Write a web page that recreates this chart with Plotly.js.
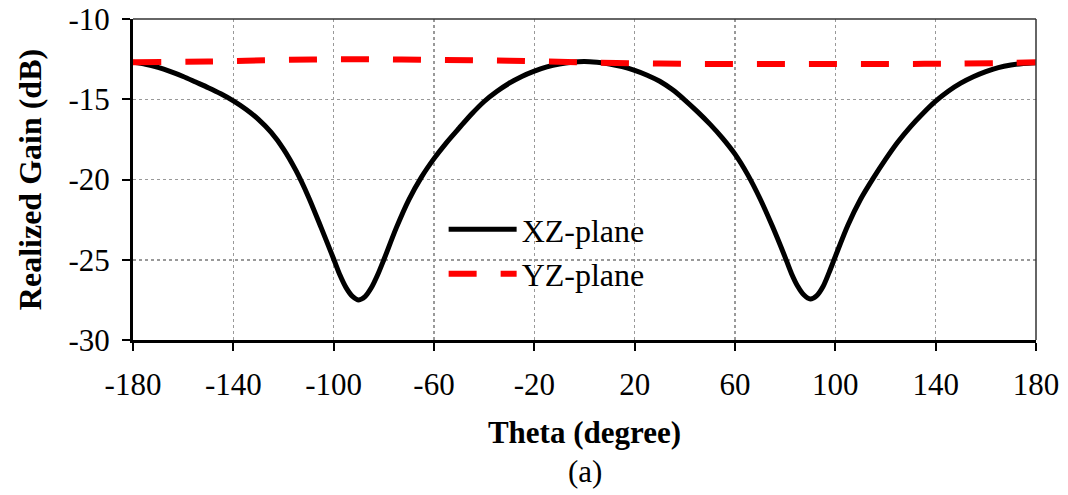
<!DOCTYPE html>
<html>
<head>
<meta charset="utf-8">
<script src="https://cdn.plot.ly/plotly-3.0.1.min.js"></script>
<style>html,body{margin:0;padding:0;background:#fff;}#chart{width:1068px;height:495px;}</style>
</head>
<body>
<div id="chart"></div>
<script>
const thetaXZ = [-180,-175,-170,-165,-160,-155,-150,-145,-140,-135,-130,-125,-120,-115,-110,-105,-100,-97.5,-95,-92.5,-90,-87.5,-85,-82.5,-80,-75,-70,-65,-60,-55,-50,-45,-40,-35,-30,-25,-20,-15,-10,-5,0,
                 5,10,15,20,25,30,35,40,45,50,55,60,65,70,75,80,82.5,85,87.5,90,92.5,95,97.5,100,105,110,115,120,125,130,135,140,145,150,155,160,165,170,175,180];
const gainXZ = [-12.70,-12.82,-13.02,-13.28,-13.58,-13.93,-14.28,-14.66,-15.10,-15.62,-16.25,-17.05,-18.10,-19.45,-21.10,-23.00,-24.95,-25.95,-26.75,-27.28,-27.50,-27.30,-26.75,-25.95,-25.00,-23.00,-21.25,-19.85,-18.70,-17.70,-16.80,-15.92,-15.14,-14.52,-14.00,-13.58,-13.25,-12.98,-12.80,-12.69,-12.65,
                -12.70,-12.80,-12.97,-13.20,-13.50,-13.88,-14.40,-15.05,-15.77,-16.55,-17.42,-18.42,-19.68,-21.20,-22.95,-24.85,-25.85,-26.65,-27.20,-27.45,-27.25,-26.70,-25.80,-24.80,-22.85,-21.25,-19.95,-18.75,-17.65,-16.70,-15.87,-15.12,-14.50,-14.00,-13.60,-13.28,-13.03,-12.87,-12.77,-12.72];
const thetaYZ = [-180,-150,-120,-90,-60,-30,0,30,60,90,120,150,180];
const gainYZ = [-12.7,-12.65,-12.55,-12.5,-12.55,-12.6,-12.7,-12.78,-12.8,-12.8,-12.8,-12.78,-12.7];
const xTicks = [-180,-140,-100,-60,-20,20,60,100,140,180];
const yTicks = [-30,-25,-20,-15,-10];

const font = "'Liberation Serif', 'Times New Roman', serif";
const traces = [
  {x: thetaXZ, y: gainXZ, name: 'XZ-plane', mode: 'lines', legendgroup: 'a',
   line: {color: '#000000', width: 5, shape: 'spline', smoothing: 0.8}},
  {x: thetaYZ, y: gainYZ, name: 'YZ-plane', mode: 'lines', legendgroup: 'b',
   line: {color: '#ff0000', width: 6, dash: '28px,24px', shape: 'spline'}}
];
const layout = {
  width: 1068, height: 495,
  margin: {l: 133, r: 32, t: 19, b: 155},
  paper_bgcolor: '#ffffff', plot_bgcolor: '#ffffff',
  font: {family: font, size: 31, color: '#000'},
  showlegend: true,
  legend: {x: 0.344, y: 0.43, xanchor: 'left', yanchor: 'top', bgcolor: 'rgba(255,255,255,0)',
           font: {family: font, size: 32, color: '#000'}, traceorder: 'grouped', tracegroupgap: 0,
           itemwidth: 68},
  xaxis: {range: [-180, 180], tickvals: xTicks, ticktext: xTicks.map(String),
          showgrid: true, gridcolor: '#999999', griddash: 'dot', gridwidth: 1.5,
          showline: true, linecolor: '#000', linewidth: 3,
          ticks: 'outside', ticklen: 8, tickwidth: 2, tickcolor: '#000',
          ticklabelstandoff: 7,
          zeroline: false,
          tickfont: {family: font, size: 31, color: '#000'},
          title: {text: '<b>Theta (degree)</b>', font: {family: font, size: 31, color: '#000'}, standoff: 21}},
  yaxis: {range: [-30, -10], tickvals: yTicks, ticktext: yTicks.map(String),
          showgrid: true, gridcolor: '#999999', griddash: 'dot', gridwidth: 1.5,
          showline: true, linecolor: '#000', linewidth: 3,
          ticks: 'outside', ticklen: 8, tickwidth: 2, tickcolor: '#000',
          ticklabelstandoff: 6,
          zeroline: false,
          tickfont: {family: font, size: 31, color: '#000'},
          title: {text: '<b>Realized Gain (dB)</b>', font: {family: font, size: 32, color: '#000'}, standoff: 18}},
  shapes: [
    {type: 'rect', xref: 'paper', yref: 'paper', x0: 0.301, x1: 0.606, y0: 0.14, y1: 0.42, layer: 'between',
     fillcolor: '#ffffff', line: {width: 0}},
    {type: 'line', xref: 'paper', yref: 'paper', x0: 0, x1: 1, y0: 1, y1: 1, line: {color: '#333', width: 1.5}},
    {type: 'line', xref: 'paper', yref: 'paper', x0: 1, x1: 1, y0: 0, y1: 1, line: {color: '#333', width: 1.5}}
  ],
  annotations: [
    {text: '(a)', xref: 'paper', yref: 'paper', x: 0.5, y: -0.35, xanchor: 'center', yanchor: 'top', showarrow: false,
     font: {family: font, size: 31, color: '#000'}}
  ]
};
Plotly.newPlot('chart', traces, layout, {displayModeBar: false, staticPlot: true});
</script>
</body>
</html>
